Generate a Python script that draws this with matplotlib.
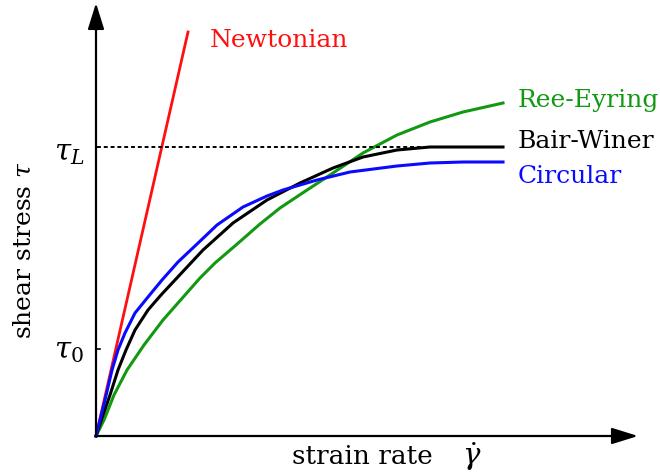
import matplotlib
matplotlib.use("Agg")
import matplotlib.pyplot as plt

plt.rcParams["mathtext.fontset"] = "dejavuserif"

# data (x = strain rate, y = shear stress, arbitrary units)
newt_x = [0, 92]
newt_y = [0, 404]

circ_x = [0, 4, 9, 16, 22, 29, 39, 52, 66, 82, 100, 121, 147, 171, 187, 221, 254, 301, 334, 367, 407]
circ_y = [0, 16, 36, 66, 86, 103, 123, 139, 156, 174, 191, 211, 229, 240, 246, 256, 264, 270, 273, 274, 274]

bw_x = [0, 7, 14, 22, 30, 39, 52, 65, 79, 107, 137, 171, 204, 237, 267, 301, 334, 367, 407]
bw_y = [0, 21, 41, 66, 86, 106, 126, 141, 156, 186, 213, 236, 253, 268, 279, 286, 289, 289, 289]

re_x = [0, 8, 18, 31, 48, 67, 89, 104, 119, 140, 164, 184, 205, 237, 267, 301, 334, 367, 407]
re_y = [0, 16, 41, 66, 91, 116, 141, 158, 173, 191, 212, 228, 242, 263, 283, 301, 314, 324, 333]

tau_L = 289
tau_0 = 87
labels = ["Newtonian", "Ree-Eyring", "Bair-Winer", "Circular"]
colors = ["#ff1010", "#119911", "#000000", "#0a0aff"]

fig = plt.figure(figsize=(6.6, 4.74), dpi=100)
ax = fig.add_axes([0, 0, 1, 1])
ax.set_xlim(-96, 564)
ax.set_ylim(-38, 436)
ax.axis("off")

lw = 2.2
ax.plot(newt_x, newt_y, color=colors[0], lw=2.0)
ax.plot(re_x, re_y, color=colors[1], lw=lw)
ax.plot(bw_x, bw_y, color=colors[2], lw=lw)
ax.plot(circ_x, circ_y, color=colors[3], lw=lw)

# axes with arrows
arrow = dict(arrowstyle="-|>,head_length=1.6,head_width=0.5",
             color="black", lw=1.6, shrinkA=0, shrinkB=0)
ax.annotate("", xy=(542, 0), xytext=(0, 0), arrowprops=arrow)
ax.annotate("", xy=(0, 433), xytext=(0, 0), arrowprops=arrow)

# tau_L dashed line and tau_0 tick
ax.plot([1, 404], [tau_L, tau_L], color="black", lw=1.4, ls=(0, (2, 1.5)))
ax.plot([0, 4], [tau_0, tau_0], color="black", lw=1.2)

serif = ["DejaVu Serif"]
ax.text(-27, 283, r"$\tau_L$", fontsize=21, ha="center", va="center")
ax.text(-27, 85, r"$\tau_0$", fontsize=21, ha="center", va="center")

ax.text(114, 389, labels[0], color=colors[0], fontsize=18, family=serif, va="baseline")
ax.text(422, 329, labels[1], color=colors[1], fontsize=18, family=serif, va="baseline")
ax.text(422, 288, labels[2], color=colors[2], fontsize=18, family=serif, va="baseline")
ax.text(422, 253, labels[3], color=colors[3], fontsize=18, family=serif, va="baseline")

ax.text(196, -21, "strain rate", fontsize=19, family=serif, va="center")
ax.text(366, -21, r"$\dot{\gamma}$", fontsize=21, va="center")
ax.text(-71, 186, r"shear stress $\tau$", fontsize=18, family=serif,
        rotation=90, ha="center", va="center")

fig.savefig("out.png", dpi=100)
